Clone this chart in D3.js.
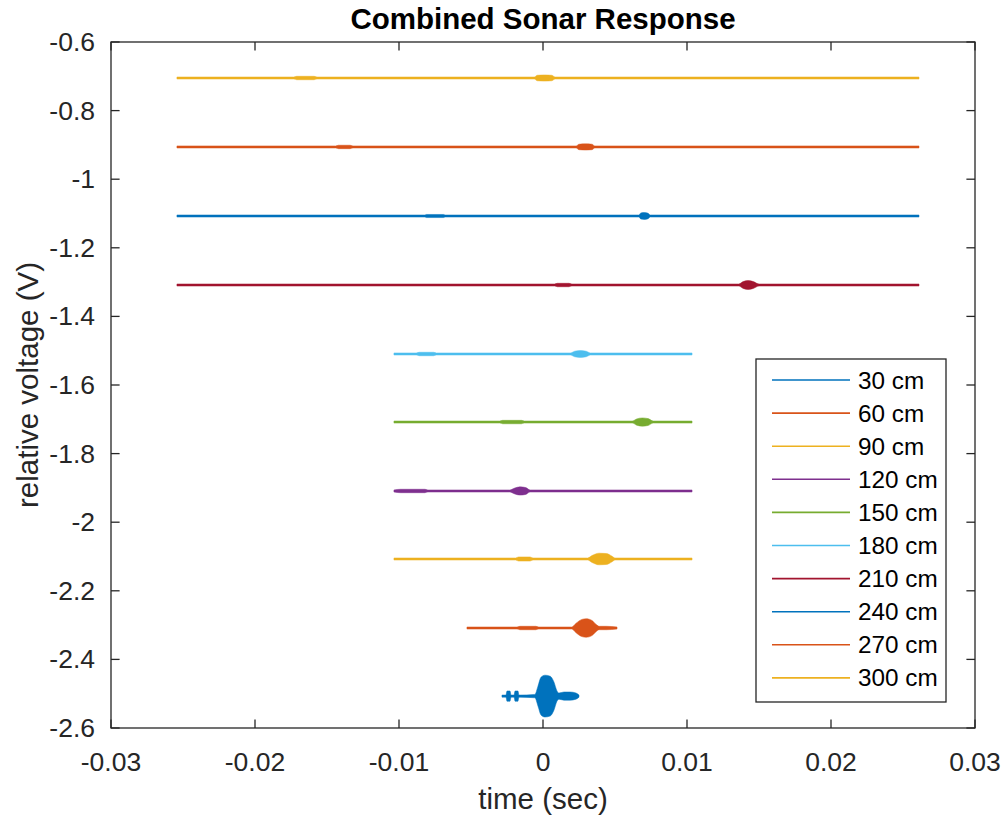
<!DOCTYPE html>
<html>
<head>
<meta charset="utf-8">
<script src="https://cdn.jsdelivr.net/npm/d3@7"></script>
<style>
  html, body { margin: 0; padding: 0; background: #fff; }
  svg { display: block; font-family: "Liberation Sans", Arial, Helvetica, sans-serif; }
</style>
</head>
<body>
<svg id="chart" width="1003" height="817"></svg>
<script>
// Range labels for each recording
const distances = ["30 cm", "60 cm", "90 cm", "120 cm", "150 cm", "180 cm", "210 cm", "240 cm", "270 cm", "300 cm"];

// MATLAB default colour order, cycled
const traceColors = ["#0072BD", "#D95319", "#EDB120", "#7E2F8E", "#77AC30", "#4DBEEE", "#A2142F", "#0072BD", "#D95319", "#EDB120"];

// Mean level of each trace (V) after stacking
const baselines = [-2.507, -2.3085, -2.1073, -1.909, -1.708, -1.5096, -1.3085, -1.1073, -0.906, -0.705];

// Signal envelopes: [time (s), half amplitude (V)]
const env30 = [[-0.00285,0.003],[-0.00257,0.003],[-0.00250,0.015],[-0.00229,0.015],[-0.00222,0.003],[-0.00201,0.003],[-0.00194,0.015],[-0.00174,0.015],[-0.00167,0.003],[-0.00056,0.005],[-0.00035,0.029],[-0.00014,0.055],[0.00014,0.061],[0.00050,0.058],[0.00076,0.041],[0.00097,0.015],[0.00111,0.009],[0.00146,0.012],[0.00188,0.012],[0.00229,0.009],[0.00250,0.003]];
const env60 = [[-0.00528,0.003],[-0.00180,0.003],[-0.00160,0.005],[-0.00050,0.005],[-0.00030,0.003],[0.00200,0.003],[0.00230,0.014],[0.00270,0.025],[0.00300,0.027],[0.00340,0.022],[0.00370,0.010],[0.00390,0.005],[0.00440,0.005],[0.00514,0.003]];
const env90 = [[-0.01035,0.003],[-0.00190,0.003],[-0.00170,0.006],[-0.00090,0.006],[-0.00070,0.003],[0.00310,0.003],[0.00340,0.010],[0.00390,0.017],[0.00440,0.016],[0.00480,0.008],[0.00500,0.003],[0.01035,0.003]];
const env120 = [[-0.01035,0.003],[-0.00990,0.005],[-0.00820,0.005],[-0.00800,0.003],[-0.00230,0.003],[-0.00200,0.008],[-0.00160,0.012],[-0.00120,0.010],[-0.00090,0.003],[0.01035,0.003]];
const env150 = [[-0.01035,0.003],[-0.00300,0.003],[-0.00280,0.005],[-0.00150,0.005],[-0.00130,0.003],[0.00620,0.003],[0.00650,0.009],[0.00690,0.012],[0.00730,0.010],[0.00765,0.003],[0.01035,0.003]];
const env180 = [[-0.01035,0.003],[-0.00880,0.003],[-0.00860,0.005],[-0.00760,0.005],[-0.00740,0.003],[0.00190,0.003],[0.00220,0.008],[0.00260,0.010],[0.00300,0.008],[0.00330,0.003],[0.01035,0.003]];
const env210 = [[-0.02542,0.003],[0.00080,0.003],[0.00100,0.005],[0.00180,0.005],[0.00200,0.003],[0.01360,0.003],[0.01390,0.010],[0.01425,0.013],[0.01460,0.010],[0.01500,0.003],[0.02611,0.003]];
const env240 = [[-0.02542,0.003],[-0.00820,0.003],[-0.00810,0.0045],[-0.00690,0.0045],[-0.00680,0.003],[0.00665,0.003],[0.00680,0.009],[0.00705,0.010],[0.00730,0.008],[0.00745,0.003],[0.02611,0.003]];
const env270 = [[-0.02542,0.003],[-0.01440,0.003],[-0.01420,0.005],[-0.01340,0.005],[-0.01320,0.003],[0.00230,0.003],[0.00250,0.008],[0.00295,0.009],[0.00340,0.008],[0.00360,0.003],[0.02611,0.003]];
const env300 = [[-0.02542,0.003],[-0.01730,0.003],[-0.01710,0.005],[-0.01590,0.005],[-0.01570,0.003],[-0.00060,0.003],[-0.00040,0.008],[0.00010,0.009],[0.00060,0.008],[0.00085,0.003],[0.02611,0.003]];
const envelopes = [env30, env60, env90, env120, env150, env180, env210, env240, env270, env300];

// Axis ticks
const xTicks = [-0.03, -0.02, -0.01, 0, 0.01, 0.02, 0.03];
const yTicks = [-2.6, -2.4, -2.2, -2, -1.8, -1.6, -1.4, -1.2, -1, -0.8, -0.6];

const svg = d3.select("#chart");
const m = { left: 111, right: 975, top: 42, bottom: 728 };
const ink = "#262626";

const x = d3.scaleLinear().domain([-0.03, 0.03]).range([m.left, m.right]);
const y = d3.scaleLinear().domain([-2.6, -0.6]).range([m.bottom, m.top]);

// Traces
const plot = svg.append("g");
envelopes.forEach((env, i) => {
  const base = baselines[i];
  const area = d3.area()
    .x(d => x(d[0]))
    .y0(d => y(base - d[1]))
    .y1(d => y(base + d[1]))
    .curve(d3.curveMonotoneX);
  plot.append("path")
    .attr("d", area(env))
    .attr("fill", traceColors[i])
    .attr("stroke", traceColors[i])
    .attr("stroke-width", 0.5);
});

// Tick text without trailing zeros
const fmt = v => (+v.toFixed(4)).toString();

// Box
svg.append("rect")
  .attr("x", m.left).attr("y", m.top)
  .attr("width", m.right - m.left).attr("height", m.bottom - m.top)
  .attr("fill", "none").attr("stroke", ink).attr("stroke-width", 1.3);

const tickLen = 8.6;
const ticks = svg.append("g").attr("stroke", ink).attr("stroke-width", 1.3);
xTicks.forEach(t => {
  ticks.append("line").attr("x1", x(t)).attr("x2", x(t)).attr("y1", m.bottom).attr("y2", m.bottom - tickLen);
  ticks.append("line").attr("x1", x(t)).attr("x2", x(t)).attr("y1", m.top).attr("y2", m.top + tickLen);
});
yTicks.forEach(t => {
  ticks.append("line").attr("x1", m.left).attr("x2", m.left + tickLen).attr("y1", y(t)).attr("y2", y(t));
  ticks.append("line").attr("x1", m.right).attr("x2", m.right - tickLen).attr("y1", y(t)).attr("y2", y(t));
});

// Tick labels
svg.append("g").selectAll("text").data(xTicks).join("text")
  .attr("x", d => x(d)).attr("y", 762)
  .attr("text-anchor", "middle").attr("dominant-baseline", "central")
  .attr("font-size", 26.5).attr("fill", ink)
  .text(fmt);
svg.append("g").selectAll("text").data(yTicks).join("text")
  .attr("x", 95).attr("y", d => y(d))
  .attr("text-anchor", "end").attr("dominant-baseline", "central")
  .attr("font-size", 26.5).attr("fill", ink)
  .text(fmt);

// Axis titles
svg.append("text").attr("x", x(0)).attr("y", 798)
  .attr("text-anchor", "middle").attr("dominant-baseline", "central")
  .attr("font-size", 29.5).attr("fill", ink).text("time (sec)");
svg.append("text")
  .attr("transform", `translate(27,${(m.top + m.bottom) / 2}) rotate(-90)`)
  .attr("text-anchor", "middle").attr("dominant-baseline", "central")
  .attr("font-size", 29.5).attr("fill", ink).text("relative voltage (V)");
svg.append("text").attr("x", x(0)).attr("y", 18)
  .attr("text-anchor", "middle").attr("dominant-baseline", "central")
  .attr("font-size", 29.5).attr("font-weight", "bold").attr("fill", "#000").text("Combined Sonar Response");

// Legend
const lg = { x: 756, y: 359, w: 190, h: 343, row: 33.1, first: 380 };
svg.append("rect").attr("x", lg.x).attr("y", lg.y).attr("width", lg.w).attr("height", lg.h)
  .attr("fill", "#fff").attr("stroke", ink).attr("stroke-width", 1.3);
const rows = svg.append("g").selectAll("g").data(distances).join("g")
  .attr("transform", (d, i) => `translate(0,${lg.first + i * lg.row})`);
rows.append("line").attr("x1", 772).attr("x2", 850).attr("y1", 0).attr("y2", 0)
  .attr("stroke", (d, i) => traceColors[i]).attr("stroke-width", 1.6);
rows.append("text").attr("x", 858).attr("y", 0).attr("dominant-baseline", "central")
  .attr("font-size", 24.3).attr("fill", "#000").text(d => d);
</script>
</body>
</html>
